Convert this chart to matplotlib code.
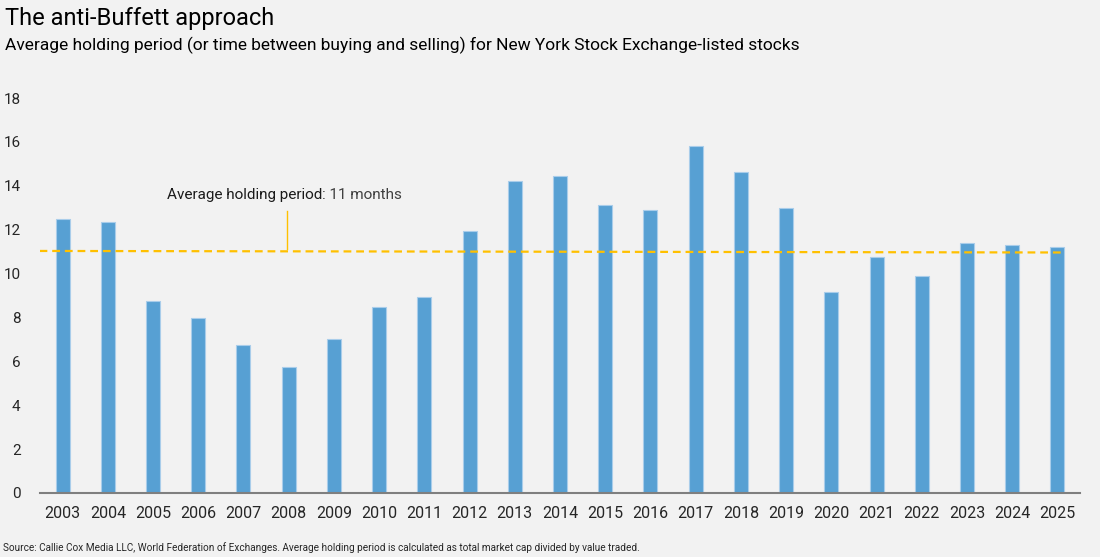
import matplotlib
matplotlib.use("Agg")
import matplotlib.pyplot as plt
from matplotlib import font_manager

years = [str(y) for y in range(2003, 2026)]
holding = [12.5, 12.35, 8.75, 7.98, 6.75, 5.74, 7.02, 8.48, 8.93, 11.94, 14.22,
           14.45, 13.13, 12.9, 15.82, 14.63, 12.99, 9.16, 10.76, 9.89, 11.39,
           11.30, 11.21]
avg_start, avg_end = 11.03, 10.96
yticks = [0, 2, 4, 6, 8, 10, 12, 14, 16, 18]

names = {f.name for f in font_manager.fontManager.ttflist}
narrow = 'Liberation Sans Narrow' if 'Liberation Sans Narrow' in names else 'Roboto'
plt.rcParams['font.family'] = [narrow, 'DejaVu Sans']

bg = '#f2f2f2'
fig = plt.figure(figsize=(11, 5.57), dpi=100, facecolor=bg)
ax = fig.add_axes([40/1100, 64/557, 1040/1100, 395/557])
ax.set_facecolor(bg)

x = list(range(len(years)))
ax.bar(x, holding, width=0.31, color='#57a0d3', edgecolor='#a9cdea', linewidth=0.8, zorder=2)
ax.plot([-0.51, len(years) - 1 + 0.14], [avg_start, avg_end], color='#ffc000',
        linestyle=(0, (3.5, 2.2)), linewidth=1.6, zorder=3)
ax.plot([4.96, 4.96], [11.1, 12.85], color='#ffc000', linewidth=1.0, zorder=3)

ax.set_xlim(-0.5, len(years) - 0.5)
ax.set_ylim(0, 18)
ax.set_xticks(x)
ax.set_xticklabels(years, fontsize=11.5, color='#262626', family='Roboto')
ax.set_yticks(yticks)
ax.set_yticklabels([str(v) for v in yticks], fontsize=11, color='#262626', family='Roboto')
ax.tick_params(axis='both', length=0, pad=9)
ax.tick_params(axis='y', pad=14)
for s in ['top', 'right', 'left']:
    ax.spines[s].set_visible(False)
ax.spines['bottom'].set_color('#7f7f7f')
ax.spines['bottom'].set_linewidth(1.5)

t1 = ax.text(2.3, 13.6, 'Average holding period', fontsize=11, color='#1a1a1a',
             family='Roboto', va='center', ha='left')
fig.canvas.draw()
bb = t1.get_window_extent()
inv = ax.transData.inverted()
xe = inv.transform((bb.x1, bb.y0))[0]
ax.text(xe, 13.6, ': 11 months', fontsize=11, color='#404040', family='Roboto',
        va='center', ha='left')

fig.text(5/1100, 1 - 18/557, 'The anti-Buffett approach', fontsize=17, color='#000000',
         va='center', ha='left')
fig.text(5/1100, 1 - 45/557,
         'Average holding period (or time between buying and selling) for New York Stock Exchange-listed stocks',
         fontsize=12.5, color='#000000', va='center', ha='left')
fig.text(3/1100, 1 - 548/557,
         'Source: Callie Cox Media LLC, World Federation of Exchanges. Average holding period is calculated as total market cap divided by value traded.',
         fontsize=7.2, color='#262626', va='center', ha='left')

fig.savefig('out.png', dpi=100, facecolor=bg)
